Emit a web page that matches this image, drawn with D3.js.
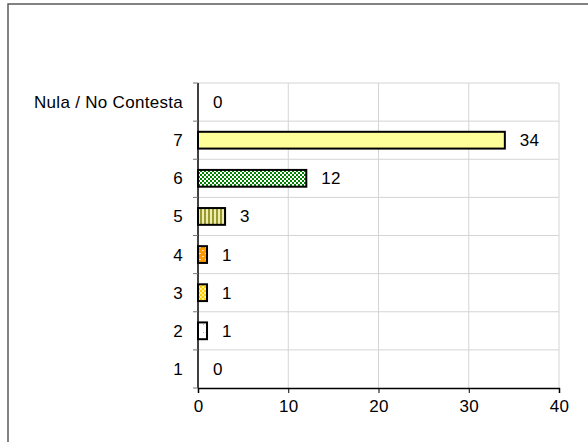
<!DOCTYPE html>
<html>
<head>
<meta charset="utf-8">
<script src="https://cdn.jsdelivr.net/npm/d3@7"></script>
<style>
html,body{margin:0;padding:0;background:#fff;}
svg{display:block;}
text{font-family:"Liberation Sans",Arial,sans-serif;fill:#000;letter-spacing:0.3px;}
</style>
</head>
<body>
<svg id="chart" width="588" height="442"></svg>
<script>
const categories = ["Nula / No Contesta","7","6","5","4","3","2","1"];
const values = [0,34,12,3,1,1,1,0];
const fills = ["none","#FFFF99","url(#p6)","url(#p5)","url(#p4)","url(#p3)","url(#p2)","none"];
const xTicks = [0,10,20,30,40];

(function(){
const svg = d3.select("#chart");
const defs = svg.append("defs");
const FS = 17;

// patterns
const p6 = defs.append("pattern").attr("id","p6").attr("patternUnits","userSpaceOnUse").attr("width",4).attr("height",4);
p6.append("rect").attr("width",4).attr("height",4).attr("fill","#008000");
p6.append("rect").attr("x",0).attr("y",0).attr("width",2).attr("height",2).attr("fill","#fff");
p6.append("rect").attr("x",2).attr("y",2).attr("width",2).attr("height",2).attr("fill","#fff");

const p5 = defs.append("pattern").attr("id","p5").attr("patternUnits","userSpaceOnUse").attr("width",4).attr("height",4);
p5.append("rect").attr("width",4).attr("height",4).attr("fill","#EEEEB0");
p5.append("rect").attr("x",0).attr("width",2).attr("height",4).attr("fill","#99992E");

const p4 = defs.append("pattern").attr("id","p4").attr("patternUnits","userSpaceOnUse").attr("width",6).attr("height",6);
p4.append("rect").attr("width",6).attr("height",6).attr("fill","#FF9900");
p4.append("rect").attr("x",1).attr("y",1).attr("width",2).attr("height",1).attr("fill","#FFE0B0");
p4.append("rect").attr("x",4).attr("y",4).attr("width",2).attr("height",1).attr("fill","#FFE0B0");

const p3 = defs.append("pattern").attr("id","p3").attr("patternUnits","userSpaceOnUse").attr("width",4).attr("height",4);
p3.append("rect").attr("width",4).attr("height",4).attr("fill","#FFCC00");
p3.append("rect").attr("x",0).attr("y",0).attr("width",2).attr("height",2).attr("fill","#FFEE88");
p3.append("rect").attr("x",2).attr("y",2).attr("width",2).attr("height",2).attr("fill","#FFEE88");

const p2 = defs.append("pattern").attr("id","p2").attr("patternUnits","userSpaceOnUse").attr("width",8).attr("height",8);
p2.append("rect").attr("width",8).attr("height",8).attr("fill","#fff");
p2.append("rect").attr("x",3).attr("y",4).attr("width",1).attr("height",1).attr("fill","#99AADD");

// outer border
svg.append("rect").attr("x",8).attr("y",4).attr("width",620).attr("height",480)
  .attr("fill","none").attr("stroke","#595959").attr("stroke-width",1.5);

const pLeft = 198, pRight = 559, pTop = 83, pBottom = 388;
const x = d3.scaleLinear().domain([0,40]).range([pLeft,pRight]);
const y = d3.scaleBand().domain(categories).range([pTop,pBottom]);

// gridlines
const g = svg.append("g");
g.selectAll(".vg").data(xTicks.slice(1)).join("line")
  .attr("x1",d=>x(d)).attr("x2",d=>x(d)).attr("y1",pTop).attr("y2",pBottom)
  .attr("stroke","#d4d4d4").attr("stroke-width",1);
const bounds = categories.map(c=>y(c));
g.selectAll(".hg").data(bounds).join("line")
  .attr("x1",pLeft).attr("x2",pRight).attr("y1",d=>d).attr("y2",d=>d)
  .attr("stroke","#d4d4d4").attr("stroke-width",1);

// bars
const bh = y.bandwidth()*0.44;
svg.append("g").selectAll("rect").data(categories.map((c,i)=>({c,v:values[i],f:fills[i]})).filter(d=>d.v>0))
  .join("rect")
  .attr("x",x(0)).attr("y",d=>y(d.c)+(y.bandwidth()-bh)/2)
  .attr("width",d=>x(d.v)-x(0)).attr("height",bh)
  .attr("fill",d=>d.f).attr("stroke","#000").attr("stroke-width",2);

// value labels
svg.append("g").selectAll("text").data(categories.map((c,i)=>({c,v:values[i]})))
  .join("text")
  .attr("x",d=>x(d.v)+15).attr("y",d=>y(d.c)+y.bandwidth()/2)
  .attr("dy","0.35em").attr("font-size",FS).text(d=>d.v);

// y axis
const ya = svg.append("g");
ya.append("line").attr("x1",pLeft).attr("x2",pLeft).attr("y1",pTop).attr("y2",pBottom).attr("stroke","#000").attr("stroke-width",1.5);
ya.selectAll(".t").data(bounds.concat([pBottom])).join("line")
  .attr("x1",pLeft-5).attr("x2",pLeft).attr("y1",d=>d).attr("y2",d=>d).attr("stroke","#777").attr("stroke-width",1);
ya.selectAll("text").data(categories).join("text")
  .attr("x",pLeft-15).attr("y",d=>y(d)+y.bandwidth()/2).attr("dy","0.35em")
  .attr("text-anchor","end").attr("font-size",FS).text(d=>d);

// x axis
const xa = svg.append("g").attr("transform",`translate(0,${pBottom})`)
  .call(d3.axisBottom(x).tickValues(xTicks).tickSize(5).tickPadding(7));
xa.select(".domain").attr("stroke","#000").attr("stroke-width",1.5);
xa.selectAll(".tick line").attr("stroke","#000");
xa.selectAll(".tick text").attr("font-size",FS).attr("font-family","Liberation Sans, Arial, sans-serif").attr("fill","#000");
})();
</script>
</body>
</html>
